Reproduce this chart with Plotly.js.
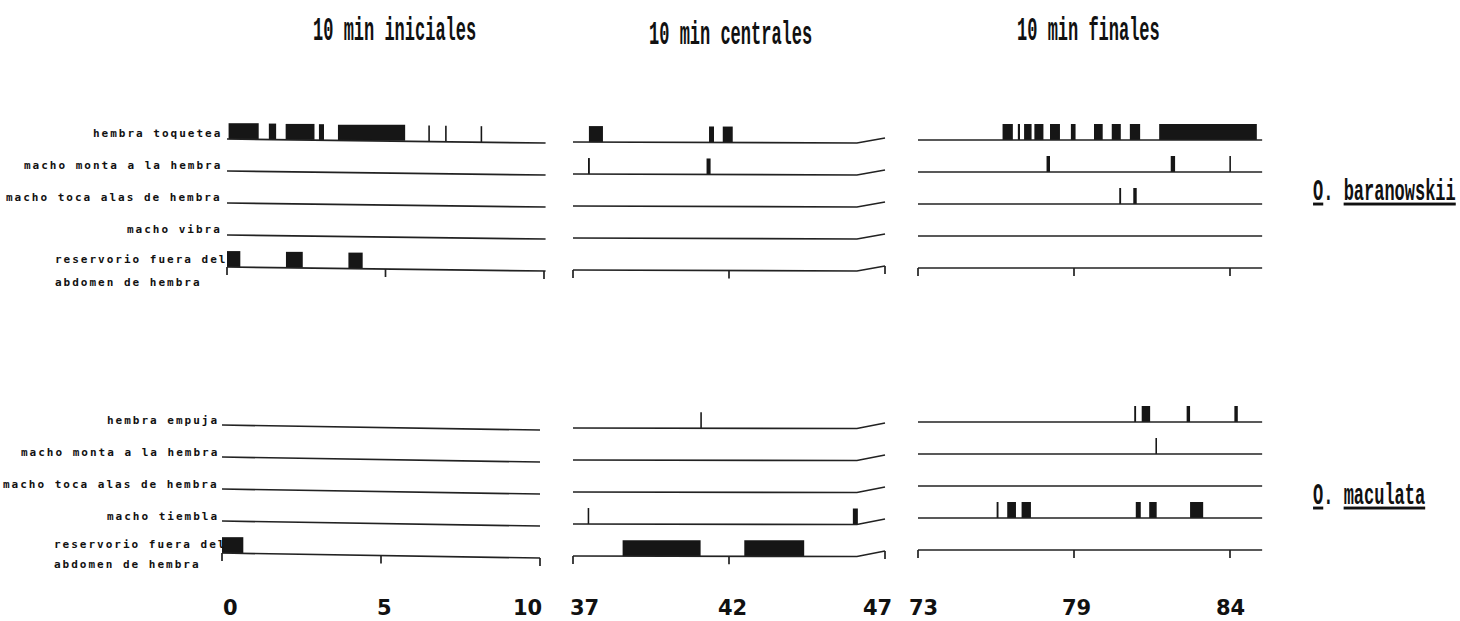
<!DOCTYPE html>
<html>
<head>
<meta charset="utf-8">
<script src="https://cdn.plot.ly/plotly-3.0.1.min.js"></script>
<style>
  html, body { margin: 0; padding: 0; background: #ffffff; }
  #chart { width: 1460px; height: 621px; }
</style>
</head>
<body>
<div id="chart"></div>
<script>
// ---------------------------------------------------------------
// Ethogram: three 10-minute observation windows, two species.
// Event times are minutes from the start of each window.
// ---------------------------------------------------------------
const windowTitles = ['10 min iniciales', '10 min centrales', '10 min finales'];
const tickMinutes = [0, 5, 10];
const tickLabels = [['0', '5', '10'], ['37', '42', '47'], ['73', '79', '84']];
const speciesGenus = ['O', 'O'];
const speciesEpithet = ['baranowskii', 'maculata'];

const behavioursBaranowskii = [
  'hembra toquetea',
  'macho monta a la hembra',
  'macho toca alas de hembra',
  'macho vibra',
  'reservorio fuera del|abdomen de hembra'
];
const behavioursMaculata = [
  'hembra empuja',
  'macho monta a la hembra',
  'macho toca alas de hembra',
  'macho tiembla',
  'reservorio fuera del|abdomen de hembra'
];

// O. baranowskii — [start, end] per event, one list per window
const baraHembraToquetea = [
  [[0.05, 1.0], [1.32, 1.55], [1.85, 2.76], [2.9, 3.06], [3.5, 5.62], [6.35, 6.4], [6.88, 6.93], [8.0, 8.05]],
  [[0.51, 0.96], [4.36, 4.52], [4.8, 5.12]],
  [[2.71, 3.04], [3.2, 3.27], [3.4, 3.64], [3.73, 4.02], [4.23, 4.55], [4.9, 5.05], [5.64, 5.92], [6.21, 6.5], [6.79, 7.12], [7.73, 10.86]]
];
const baraMachoMonta = [[], [[0.48, 0.54], [4.28, 4.41]], [[4.12, 4.23], [8.1, 8.24], [9.98, 10.03]]];
const baraMachoToca = [[], [], [[6.45, 6.51], [6.9, 7.01]]];
const baraMachoVibra = [[], [], []];
const baraReservorio = [[[0.0, 0.42], [1.86, 2.39], [3.83, 4.28]], [], []];

// O. maculata
const macuHembraEmpuja = [[], [[4.08, 4.13]], [[6.93, 6.99], [7.17, 7.44], [8.61, 8.72], [10.14, 10.25]]];
const macuMachoMonta = [[], [], [[7.61, 7.66]]];
const macuMachoToca = [[], [], []];
const macuMachoTiembla = [[], [[0.47, 0.52], [8.97, 9.13]], [[2.52, 2.58], [2.86, 3.14], [3.32, 3.62], [6.98, 7.14], [7.41, 7.65], [8.72, 9.14]]];
const macuReservorio = [[[0.0, 0.67]], [[1.59, 4.09], [5.49, 7.41]], []];

// ---------------------------------------------------------------
// Page geometry (pixels) and styling
// ---------------------------------------------------------------
const W = 1460, H = 621;
const px = p => p / W;
const py = p => 1 - p / H;
const rowPitch = 32;          // pixels between behaviour rows
const eventHeight = 0.5;      // in row units
const tickDrop = 0.25;        // in row units
const minEventWidth = 0.05;   // minutes
const ink = '#161616';
const lineInk = '#222222';

const xDomainsPx = [[200, 562], [562, 900], [900, 1290]];

const groups = [
  {
    yaxis: 'y', names: behavioursBaranowskii,
    events: [baraHembraToquetea, baraMachoMonta, baraMachoToca, baraMachoVibra, baraReservorio],
    firstRowPx: 139, yDomainPx: [95, 300],
    xPx: [[227, 544], [573, 885], [918, 1230]],
    // slight slant of the hand-drawn baselines (pixels downward)
    sag: [{ t: [0, 10.05], d: [0, 4] }, { t: [0, 9.1, 10], d: [3, 4, -1] }, { t: [0, 11.03], d: [1, 1] }],
    labelRightPx: 224, labelLeftPx: 53, lastLabelShift: [8, -15], labelShift: 6
  },
  {
    yaxis: 'y2', names: behavioursMaculata,
    events: [macuHembraEmpuja, macuMachoMonta, macuMachoToca, macuMachoTiembla, macuReservorio],
    firstRowPx: 425, yDomainPx: [385, 585],
    xPx: [[222, 540], [573, 885], [918, 1230]],
    sag: [{ t: [0, 10], d: [0, 5] }, { t: [0, 9.1, 10], d: [3, 3.5, -2] }, { t: [0, 11.03], d: [-3, -3] }],
    labelRightPx: 221, labelLeftPx: 52, lastLabelShift: [9, -11], labelShift: 5
  }
];

function sagAt(p, t) {
  const ts = p.t, ds = p.d;
  if (t <= ts[0]) return ds[0];
  for (let i = 1; i < ts.length; i++) {
    if (t <= ts[i]) {
      const f = (t - ts[i - 1]) / (ts[i] - ts[i - 1]);
      return ds[i - 1] + f * (ds[i] - ds[i - 1]);
    }
  }
  return ds[ds.length - 1];
}

const traces = [];
const layout = {
  width: W, height: H,
  margin: { l: 0, r: 0, t: 0, b: 0 },
  paper_bgcolor: '#ffffff', plot_bgcolor: 'rgba(0,0,0,0)',
  showlegend: false, barmode: 'overlay', hovermode: false,
  annotations: []
};
const stretch = {};   // annotation index -> vertical stretch of its glyphs

const axisOff = { visible: false, showgrid: false, zeroline: false, fixedrange: true };

groups.forEach((g, gi) => {
  // y axis: row k baseline sits at value -k
  const yName = gi === 0 ? 'yaxis' : 'yaxis2';
  const [dTop, dBot] = g.yDomainPx;
  layout[yName] = Object.assign({}, axisOff, {
    domain: [py(dBot), py(dTop)],
    range: [-(dBot - g.firstRowPx) / rowPitch, -(dTop - g.firstRowPx) / rowPitch]
  });

  for (let w = 0; w < 3; w++) {
    const axisNum = gi * 3 + w + 1;
    const xRef = axisNum === 1 ? 'x' : 'x' + axisNum;
    const xName = axisNum === 1 ? 'xaxis' : 'xaxis' + axisNum;
    const [p0, p10] = g.xPx[w];
    const k = 10 / (p10 - p0);
    const [d0, d1] = xDomainsPx[w];
    layout[xName] = Object.assign({}, axisOff, {
      domain: [px(d0), px(d1)],
      range: [(d0 - p0) * k, (d1 - p0) * k],
      anchor: g.yaxis
    });

    const prof = g.sag[w];
    const baseAt = (row, t) => -row - sagAt(prof, t) / rowPitch;

    // baselines
    const lx = [], ly = [];
    g.names.forEach((_, row) => {
      prof.t.forEach(t => { lx.push(t); ly.push(baseAt(row, t)); });
      lx.push(null); ly.push(null);
    });
    // time ticks on the last row
    const lastRow = g.names.length - 1;
    tickMinutes.forEach(t => {
      const b = baseAt(lastRow, t);
      lx.push(t, t, null); ly.push(b, b - tickDrop, null);
    });
    traces.push({
      type: 'scatter', mode: 'lines', x: lx, y: ly, xaxis: xRef, yaxis: g.yaxis,
      line: { color: lineInk, width: 1.7 }, connectgaps: false
    });

    // events
    const bx = [], bw = [], bb = [], bh = [];
    g.events.forEach((series, row) => {
      series[w].forEach(([s, e]) => {
        const mid = (s + e) / 2;
        bx.push(mid);
        bw.push(Math.max(e - s, minEventWidth));
        bb.push(baseAt(row, mid));
        bh.push(eventHeight);
      });
    });
    if (bx.length) {
      traces.push({
        type: 'bar', x: bx, y: bh, base: bb, width: bw, xaxis: xRef, yaxis: g.yaxis,
        marker: { color: ink, line: { width: 0 } }
      });
    }

    // time labels under the lower group
    if (gi === 1) {
      const shifts = [[8, 3, -13], [11, 3, -8], [5, 2, 0]][w];
      tickMinutes.forEach((t, i) => {
        layout.annotations.push({
          xref: xRef, yref: 'paper', x: t, y: py(608), xshift: shifts[i],
          text: tickLabels[w][i], showarrow: false, xanchor: 'center', yanchor: 'middle',
          font: { family: '"DejaVu Sans", sans-serif', size: 21, weight: 'bold', color: '#111' }
        });
      });
    }
  }

  // behaviour labels
  const labelFont = { family: '"DejaVu Sans Mono", monospace', size: 11, weight: 'bold', color: '#111' };
  const spaced = s => '<span style="letter-spacing:2px">' + s + '</span>';
  g.names.forEach((name, row) => {
    const parts = name.split('|');
    if (parts.length === 1) {
      layout.annotations.push({
        xref: 'paper', yref: g.yaxis, x: px(g.labelRightPx), y: -row, yshift: g.labelShift,
        text: spaced(name), showarrow: false, xanchor: 'right', yanchor: 'middle', font: labelFont
      });
    } else {
      parts.forEach((part, j) => {
        layout.annotations.push({
          xref: 'paper', yref: g.yaxis, x: px(g.labelLeftPx), y: -row, yshift: g.lastLabelShift[j],
          text: spaced(part), showarrow: false, xanchor: 'left', yanchor: 'middle', font: labelFont
        });
      });
    }
  });

  // species name
  stretch[layout.annotations.length] = 1.7;
  layout.annotations.push({
    xref: 'paper', yref: 'paper', x: px(1311), y: py(gi === 0 ? 192 : 496),
    text: '<u>' + speciesGenus[gi] + '</u>. <u>' + speciesEpithet[gi] + '</u>',
    showarrow: false, xanchor: 'left', yanchor: 'middle',
    font: { family: '"Liberation Mono", monospace', size: 17, weight: 'bold', color: '#111' }
  });
});

// window titles
const titleCentersPx = [[394, 31], [730, 35], [1088, 31]];
windowTitles.forEach((t, i) => {
  stretch[layout.annotations.length] = 2.0;
  layout.annotations.push({
    xref: 'paper', yref: 'paper', x: px(titleCentersPx[i][0]), y: py(titleCentersPx[i][1]),
    text: t, showarrow: false, xanchor: 'center', yanchor: 'middle',
    font: { family: '"Liberation Mono", monospace', size: 17, weight: 'bold', color: '#111' }
  });
});

Plotly.newPlot('chart', traces, layout, { staticPlot: true, displayModeBar: false }).then(gd => {
  // typewriter titles are tall and narrow: stretch those glyphs vertically
  gd.querySelectorAll('g.annotation').forEach(node => {
    const s = stretch[+node.getAttribute('data-index')];
    if (!s) return;
    const t = node.querySelector('text.annotation-text');
    if (!t) return;
    const b = t.getBBox();
    const cy = b.y + b.height / 2;
    t.setAttribute('transform', 'translate(0 ' + cy + ') scale(1 ' + s + ') translate(0 ' + (-cy) + ')');
  });
});
</script>
</body>
</html>
